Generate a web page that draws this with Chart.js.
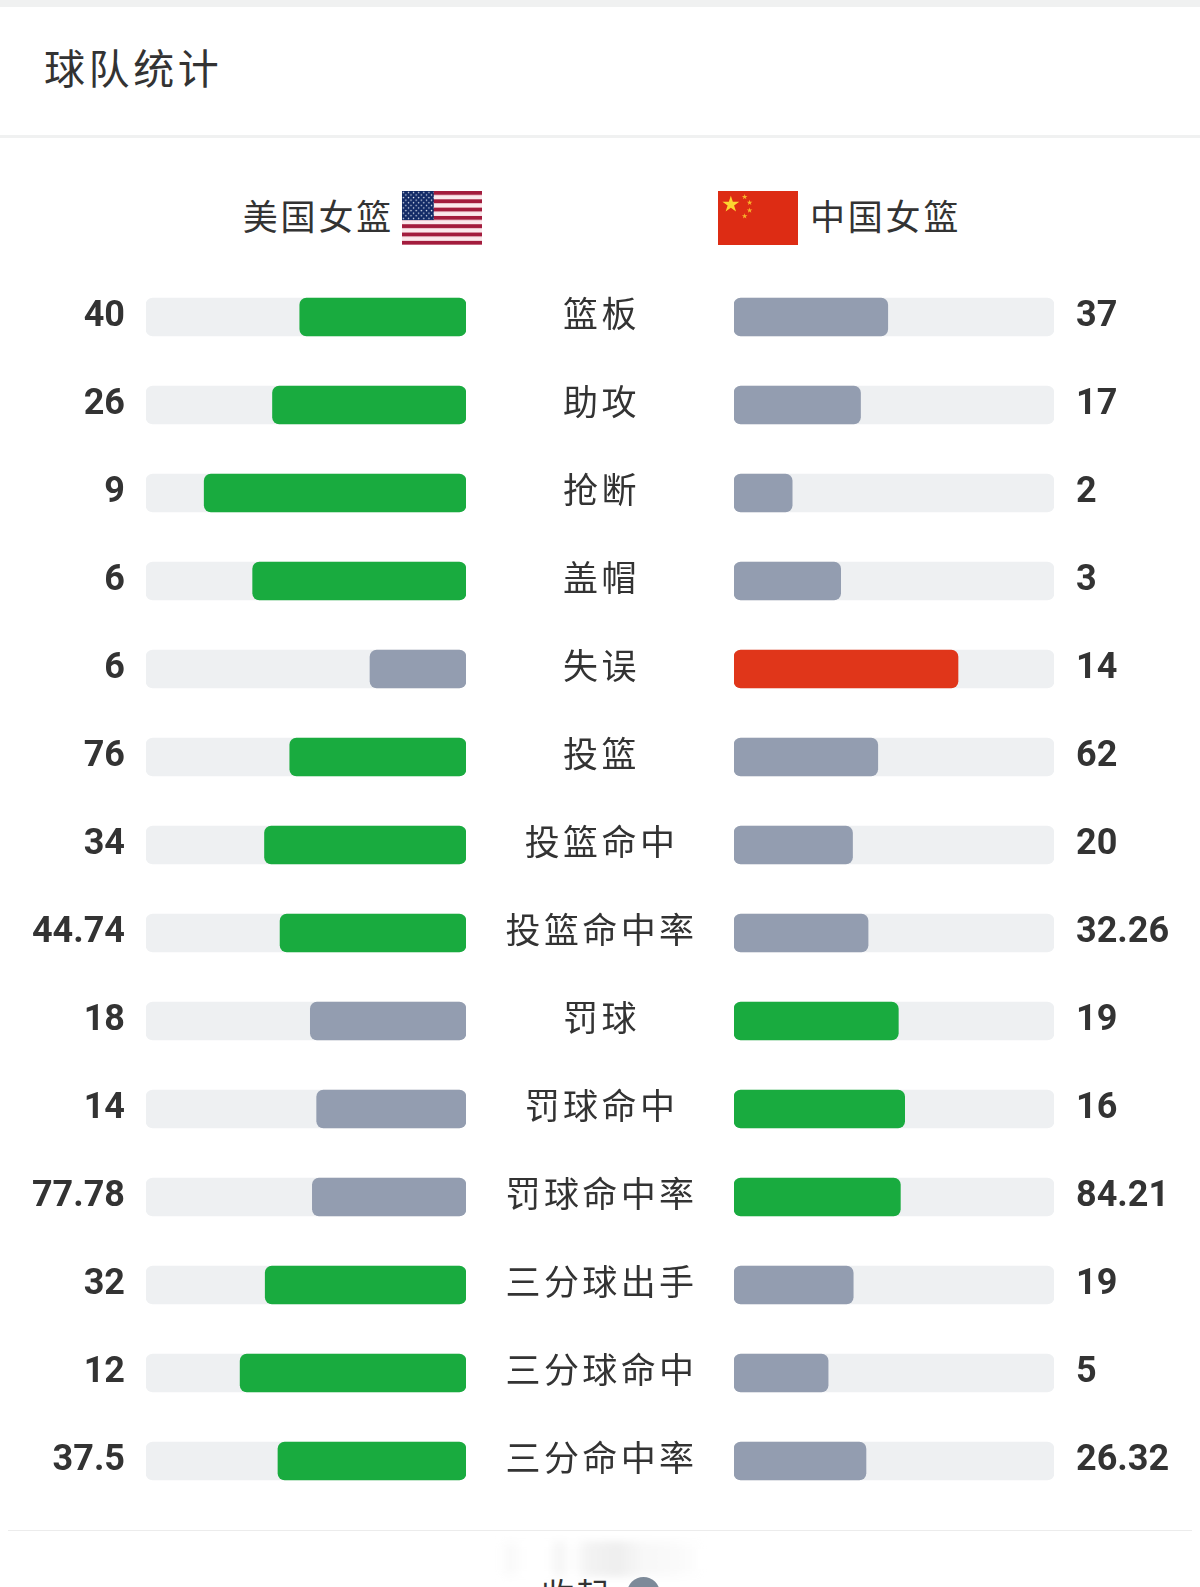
<!DOCTYPE html>
<html lang="zh">
<head>
<meta charset="utf-8">
<title>球队统计</title>
<script src="https://cdn.jsdelivr.net/npm/chart.js@4"></script>
<style>
    html, body { margin: 0; padding: 0; background: #fff; }
    body { position: relative; width: 1200px; height: 1587px; overflow: hidden; color: #333; font-family: "Noto Sans CJK SC", sans-serif; }
    .abs { position: absolute; white-space: nowrap; }
    #topband { left: 0; top: 0; width: 1200px; height: 7px; background: #f0f1f1; }
    #title { left: 44px; top: 37px; font-size: 41px; line-height: 58px; letter-spacing: 3.6px; }
    #rule1 { left: 0; top: 135px; width: 1200px; height: 3px; background: #f0f1f1; }
    .team { top: 189px; font-size: 35px; line-height: 52px; letter-spacing: 2.8px; }
    #teamLeft { right: 806px; }
    #teamRight { left: 810px; }
    svg.flag { position: absolute; top: 191px; width: 80px; height: 54px; }
    canvas { position: absolute; top: 273px; }
    #leftChart { left: 0; }
    #rightChart { left: 466px; }
    #rule2 { left: 8px; top: 1530px; width: 1184px; height: 1px; background: #ececec; }
    #smudge { left: 498px; top: 1541px; width: 206px; height: 36px; filter: blur(3px); opacity: .4;
        background: linear-gradient(90deg, #fff 0, #f3f3f3 6%, #fff 13%, #fff 24%, #e8e8e8 30%, #fff 36%, #e2e2e2 44%, #d6d6d6 58%, #eee 70%, #f3f3f3 85%, #fff 100%); }
    #collapse { left: 541px; top: 1569px; font-size: 33px; line-height: 48px; letter-spacing: 2px; }
    #knob { left: 627px; top: 1577px; width: 33px; height: 33px; border-radius: 50%; background: #7d8a99; }
</style>
</head>
<body>
<div class="abs" id="topband"></div>
<div class="abs" id="title">球队统计</div>
<div class="abs" id="rule1"></div>

<div class="abs team" id="teamLeft">美国女篮</div>
<svg class="flag" style="left:402px" viewBox="0 0 78 52" preserveAspectRatio="none">
    <defs>
        <pattern id="stripes" width="78" height="8" patternUnits="userSpaceOnUse">
            <rect width="78" height="4" fill="#a31c3d"></rect>
            <rect y="4" width="78" height="4" fill="#fbe9ec"></rect>
        </pattern>
        <pattern id="dots" width="5" height="5" patternUnits="userSpaceOnUse">
            <circle cx="1.3" cy="1.3" r=".7" fill="#e8edf6"></circle>
            <circle cx="3.8" cy="3.8" r=".7" fill="#e8edf6"></circle>
        </pattern>
    </defs>
    <rect width="78" height="52" fill="url(#stripes)"></rect>
    <rect width="31" height="28" fill="#122a66"></rect>
    <rect width="31" height="28" fill="url(#dots)"></rect>
</svg>

<svg class="flag" style="left:718px" viewBox="0 0 81 56" preserveAspectRatio="none">
    <defs>
        <polygon id="star" points="0,-1 .225,-.309 .951,-.309 .363,.118 .588,.809 0,.382 -.588,.809 -.363,.118 -.951,-.309 -.225,-.309"></polygon>
    </defs>
    <rect width="81" height="56" fill="#dd2c14"></rect>
    <use href="#star" fill="#fcd530" transform="translate(13 14) scale(9)"></use>
    <use href="#star" fill="#f7b52b" transform="translate(27 6) scale(3)"></use>
    <use href="#star" fill="#f7b52b" transform="translate(32 12) scale(3)"></use>
    <use href="#star" fill="#f7b52b" transform="translate(32 20) scale(3)"></use>
    <use href="#star" fill="#f7b52b" transform="translate(27 26) scale(3)"></use>
</svg>
<div class="abs team" id="teamRight">中国女篮</div>

<canvas id="leftChart" width="466" height="1232"></canvas>
<canvas id="rightChart" width="734" height="1232"></canvas>

<div class="abs" id="rule2"></div>
<div class="abs" id="smudge"></div>
<div class="abs" id="collapse">收起</div>
<div class="abs" id="knob"></div>

<script>
const categories = ["篮板", "助攻", "抢断", "盖帽", "失误", "投篮", "投篮命中", "投篮命中率", "罚球", "罚球命中", "罚球命中率", "三分球出手", "三分球命中", "三分命中率"];
const usaValues = [40, 26, 9, 6, 6, 76, 34, 44.74, 18, 14, 77.78, 32, 12, 37.5];
const chinaValues = [37, 17, 2, 3, 14, 62, 20, 32.26, 19, 16, 84.21, 19, 5, 26.32];

const green = "#19ab3f";
const gray = "#939db0";
const red = "#e0361a";
const track = "#eef0f2";
const numberFont = { family: "Roboto", size: 36, weight: "700" };

// bar length is this team's share of the two values, winner gets the colour
const shares = (mine, other) => mine.map((v, i) => v / (v + other[i]));
const colors = (mine, other) => mine.map((v, i) => {
    if (v <= other[i]) return gray;
    return categories[i] === "失误" ? red : green;
});

function barDatasets(mine, other) {
    return [
        {
            data: shares(mine, other),
            backgroundColor: colors(mine, other),
            order: 0
        },
        {
            data: categories.map(() => 1),
            backgroundColor: track,
            order: 1
        }
    ].map(d => ({ ...d, barThickness: 38, borderRadius: 7, borderSkipped: false, grouped: false }));
}

function fixedAxis(labels, width, padding, font, extra) {
    return {
        type: "category",
        labels: labels,
        border: { display: false },
        grid: { display: false, drawTicks: false },
        // no room for half a label above and below, rows fill the whole canvas
        afterFit: (scale) => {
            scale.width = width;
            scale.paddingTop = 0;
            scale.paddingBottom = 0;
        },
        ticks: { autoSkip: false, color: "#333", padding: padding, font: font, labelOffset: 0, ...extra }
    };
}

const baseOptions = {
    indexAxis: "y",
    responsive: false,
    animation: false,
    layout: { padding: 0 },
    plugins: { legend: { display: false }, tooltip: { enabled: false } }
};

new Chart(document.getElementById("leftChart"), {
    type: "bar",
    data: { labels: categories, datasets: barDatasets(usaValues, chinaValues) },
    options: {
        ...baseOptions,
        scales: {
            x: { display: false, min: 0, max: 1, reverse: true },
            y: fixedAxis(usaValues.map(String), 146, 21, numberFont)
        }
    }
});

// the category names sit wider apart than the numbers, so only that axis gets letter spacing
const spacedLabels = {
    id: "spacedLabels",
    beforeDraw(chart) {
        const scale = chart.scales.y;
        if (scale.spaced) return;
        scale.spaced = true;
        const draw = scale.drawLabels;
        scale.drawLabels = function (area) {
            chart.ctx.save();
            chart.ctx.letterSpacing = "3.4px";
            draw.call(scale, area);
            chart.ctx.restore();
        };
    }
};

new Chart(document.getElementById("rightChart"), {
    type: "bar",
    plugins: [spacedLabels],
    data: { labels: categories, datasets: barDatasets(chinaValues, usaValues) },
    options: {
        ...baseOptions,
        scales: {
            x: { display: false, min: 0, max: 1 },
            y: fixedAxis(categories, 268, 45, { family: "Noto Sans CJK SC", size: 35 }, { crossAlign: "center", labelOffset: -3 }),
            y2: { position: "right", ...fixedAxis(chinaValues.map(String), 146, 22, numberFont) }
        }
    }
});
</script>
</body>
</html>
